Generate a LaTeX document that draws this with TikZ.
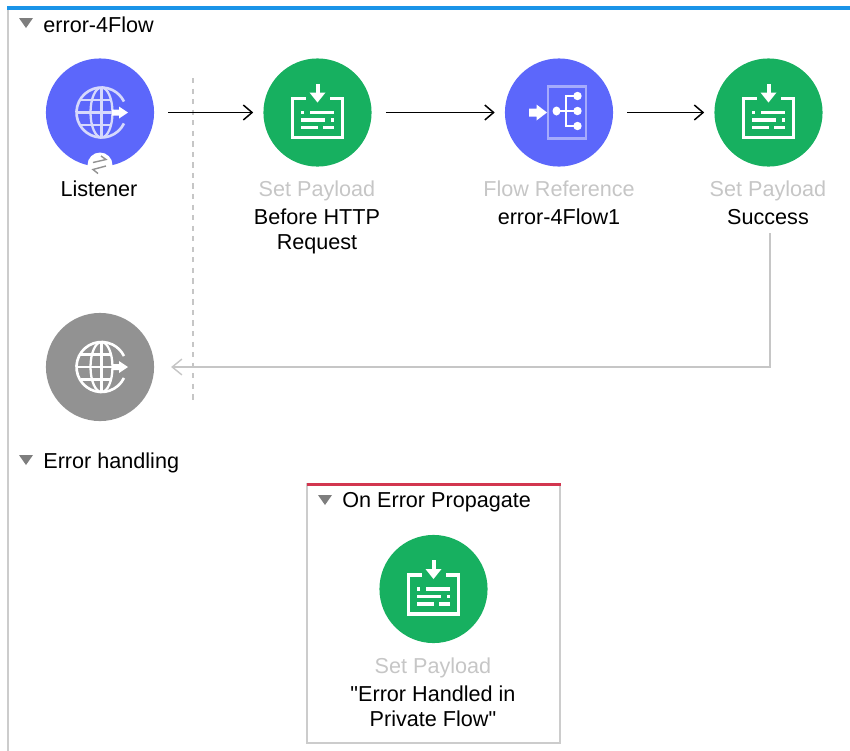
\documentclass[tikz,border=0pt]{standalone}
\usepackage{fontspec}
\setmainfont[Ligatures=TeXOff]{Liberation Sans}
\usepackage{xcolor}
\usepackage{tikz}
\usetikzlibrary{calc,arrows.meta}

\definecolor{flowblue}{HTML}{5C67FB}
\definecolor{flowgreen}{HTML}{17B060}
\definecolor{flowgrey}{HTML}{929292}
\definecolor{barblue}{HTML}{1A94E8}
\definecolor{barred}{HTML}{D2364F}
\definecolor{framegrey}{HTML}{CCCCCC}
\definecolor{labelgrey}{HTML}{C6C6C6}
\definecolor{foldgrey}{HTML}{7E7E7E}
\definecolor{globeline}{HTML}{D6D9FC}

\tikzset{
    every node/.style={font=\fontsize{12.3}{14.2}\selectfont},
    disc/.style={circle,minimum size=3.09cm*0.7,inner sep=0pt,fill=#1},
    caption/.style={anchor=north,align=center,inner sep=0pt},
    heading/.style={anchor=west,inner sep=0pt},
    flow/.style={-{Straight Barb[length=5pt,width=8.5pt]},line width=0.85pt,black,shorten <=8pt,shorten >=5.6pt},
    back/.style={-{Straight Barb[length=5.5pt,width=9pt]},line width=0.8pt,labelgrey,shorten >=9.5pt},
    fold/.style={fill=foldgrey,draw=none},
}

\newcommand{\foldmark}[2]{\fill[fold] (#1-7,#2) -- (#1+7,#2) -- (#1,#2+10) -- cycle;}
\newcommand{\payloadicon}[1]{
    \begin{scope}[shift={(#1)},white]
        \draw[line width=1.9pt] (-12,-14) -- (-25,-14) -- (-25,25) -- (25,25) -- (25,-14) -- (12,-14);
        \fill (-2,-29) rectangle (2,-20);
        \fill (-8,-20) -- (8,-20) -- (0,-10) -- cycle;
        \fill (-17,-2) rectangle (-13.3,1.5);
        \fill (-7.7,-2) rectangle (16.7,1.5);
        \fill (-17,5.8) rectangle (7.3,9.2);
        \fill (13.3,5.8) rectangle (16.7,9.2);
        \fill (-17,13) rectangle (0,16.5);
        \fill (5.7,13) rectangle (16.7,16.5);
    \end{scope}
}
\newcommand{\globeicon}[2]{
    \begin{scope}[shift={(#1)}]
        \draw[#2,line width=1.5pt] (1.5,0) ++(26:25) arc (26:334:25);
        \draw[#2,line width=1.3pt] (1.5,-25) -- (1.5,25);
        \draw[#2,line width=1.3pt] (1.5,0) ellipse (11 and 25);
        \draw[#2,line width=1.3pt] (-23.5,0) -- (12,0);
        \draw[#2,line width=1.3pt] (-19,-12.5) -- (11,-12.5);
        \draw[#2,line width=1.3pt] (-19,12.5) -- (11,12.5);
        \fill[white] (12,-3) -- (19,-3) -- (19,-6) -- (28,0) -- (19,6) -- (19,3) -- (12,3) -- cycle;
    \end{scope}
}
\newcommand{\flowicon}[1]{
    \begin{scope}[shift={(#1)},white]
        \draw[white,opacity=0.45,line width=1.5pt] (-11,-26) rectangle (27,26);
        \fill (-30,-4) -- (-22.5,-4) -- (-22.5,-8) -- (-12,0) -- (-22.5,8) -- (-22.5,4) -- (-30,4) -- cycle;
        \fill (-2.5,-1.5) ellipse (4 and 4.5);
        \fill (18.5,-16.5) circle (4.2);
        \fill (18.5,-1.5) circle (4.2);
        \fill (18.5,13.5) circle (4.2);
        \draw[line width=1pt] (-2.5,-1.5) -- (18.5,-1.5);
        \draw[line width=1pt] (18.5,-16.5) -- (6.8,-16.5) -- (6.8,13.5) -- (18.5,13.5);
    \end{scope}
}

\begin{document}
\begin{tikzpicture}[x=0.02cm,y=-0.02cm]
    \useasboundingbox (0,0) rectangle (850,751);

    \fill[framegrey] (7,8) rectangle (9,751);
    \fill[barblue] (7,6) rectangle (850,9.5);
    \foldmark{26}{18}
    \node[heading] (H1) at (43,25) {error-4Flow};
    \foldmark{26}{455}
    \node[heading] (H2) at (43,463) {Error handling};

    \draw[framegrey,line width=0.8pt] (307,484) rectangle (560,743);
    \fill[barred] (306.5,482.5) rectangle (560.5,485.5);
    \foldmark{325}{495}
    \node[heading] (H3) at (342,502) {On Error Propagate};

    \draw[labelgrey,dashed,line width=0.6pt] (193,78) -- (193,401);

    \node[disc=flowblue] (L1) at (100,112.5) {};
    \node[disc=flowgreen] (P1) at (317.5,112.5) {};
    \node[disc=flowblue] (F1) at (559,112.5) {};
    \node[disc=flowgreen] (P2) at (768.5,112.5) {};
    \node[disc=flowgrey] (R1) at (100,367) {};
    \node[disc=flowgreen] (P3) at (433.5,589) {};

    \globeicon{L1}{globeline}
    \globeicon{R1}{white}
    \payloadicon{P1}
    \payloadicon{P2}
    \payloadicon{P3}
    \flowicon{F1}

    \fill[white] (100,165) circle (12.5);
    \draw[flowgrey,line width=0.8pt] (93,162.5) -- (106,159.5) -- (101,156);
    \draw[flowgrey,line width=0.8pt] (106,166) -- (93,169.5) -- (98,173.5);

    \node[caption] (C1) at (99,180) {Listener};
    \node[caption] (C2) at (317,180) {\textcolor{labelgrey}{Set Payload}\\[2.2pt]Before HTTP\\Request};
    \node[caption] (C3) at (559,180) {\textcolor{labelgrey}{Flow Reference}\\[2.2pt]error-4Flow1};
    \node[caption] (C4) at (768,180) {\textcolor{labelgrey}{Set Payload}\\[2.2pt]Success};
    \node[caption] (C5) at (433,657) {\textcolor{labelgrey}{Set Payload}\\[2.2pt]"Error Handled in\\Private Flow"};

    \coordinate (B1) at (770,233);

    \draw[flow] (L1) to (P1);
    \draw[flow] (P1) to (F1);
    \draw[flow] (F1) to (P2);
    \draw[back] (B1) |- (R1);
\end{tikzpicture}
\end{document}
